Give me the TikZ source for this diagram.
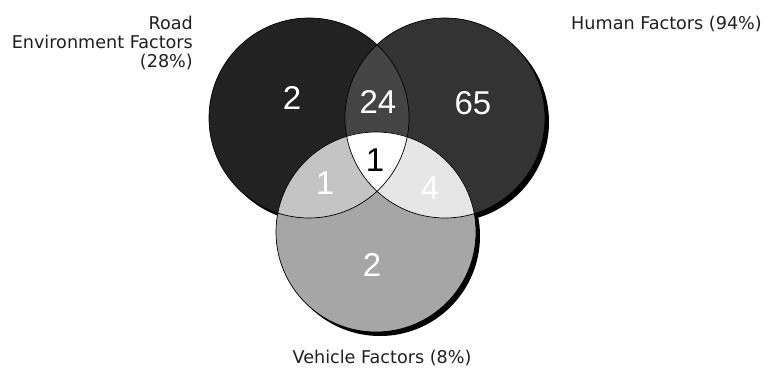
\documentclass[tikz,border=0pt]{standalone}
\usepackage{fontspec}
\setmainfont{DejaVu Sans}
\newfontfamily\numfont{Liberation Sans}
\definecolor{labcol}{HTML}{202020}
\definecolor{cL}{HTML}{222222}
\definecolor{cR}{HTML}{333333}
\definecolor{cB}{HTML}{A6A6A6}
\definecolor{cLR}{HTML}{444444}
\definecolor{cLB}{HTML}{C4C4C4}
\definecolor{cRB}{HTML}{E6E6E6}
\begin{document}
\begin{tikzpicture}[x=1pt,y=-1pt,
  lab/.style={font=\fontsize{17.6}{19}\selectfont, text=labcol, inner sep=0pt},
  num/.style={font=\numfont\fontsize{33}{33}\selectfont, text=white, inner sep=0pt},
  outline/.style={draw=black, line width=0.7pt},
  shadow/.style={fill=black}]
\useasboundingbox (0,0) rectangle (764,372);
\coordinate (L) at (309,118);
\coordinate (R) at (445,118);
\coordinate (B) at (376,232);
% shadows
\fill[shadow] ([shift={(4,4)}]L) circle[radius=100pt];
\fill[shadow] ([shift={(4,4)}]R) circle[radius=100pt];
\fill[shadow] ([shift={(4,4)}]B) circle[radius=100pt];
% circles
\fill[cL] (L) circle[radius=100pt];
\fill[cR] (R) circle[radius=100pt];
\fill[cB] (B) circle[radius=100pt];
% intersections
\begin{scope}
  \clip (L) circle[radius=100pt];
  \fill[cLR] (R) circle[radius=100pt];
  \fill[cLB] (B) circle[radius=100pt];
\end{scope}
\begin{scope}
  \clip (R) circle[radius=100pt];
  \fill[cRB] (B) circle[radius=100pt];
\end{scope}
\begin{scope}
  \clip (L) circle[radius=100pt];
  \clip (R) circle[radius=100pt];
  \fill[white] (B) circle[radius=100pt];
\end{scope}
% outlines
\draw[outline] (L) circle[radius=100pt];
\draw[outline] (R) circle[radius=100pt];
\draw[outline] (B) circle[radius=100pt];
% numbers
\node[num] (nL) at (292,98) {2};
\node[num] (nLR) at (378,102) {24};
\node[num] (nR) at (473,103) {65};
\node[num, text=black] (nLRB) at (375,160) {1};
\node[num] (nLB) at (325,183) {1};
\node[num] (nRB) at (430,188) {4};
\node[num] (nB) at (372,265) {2};
% labels
\node[lab, align=right, anchor=north east] (road) at (193,16) {Road\\Environment Factors\\(28\%)};
\node[lab, anchor=base east] (human) at (762,29) {Human Factors (94\%)};
\node[lab, anchor=base] (vehicle) at (382,363) {Vehicle Factors (8\%)};
\end{tikzpicture}
\end{document}
